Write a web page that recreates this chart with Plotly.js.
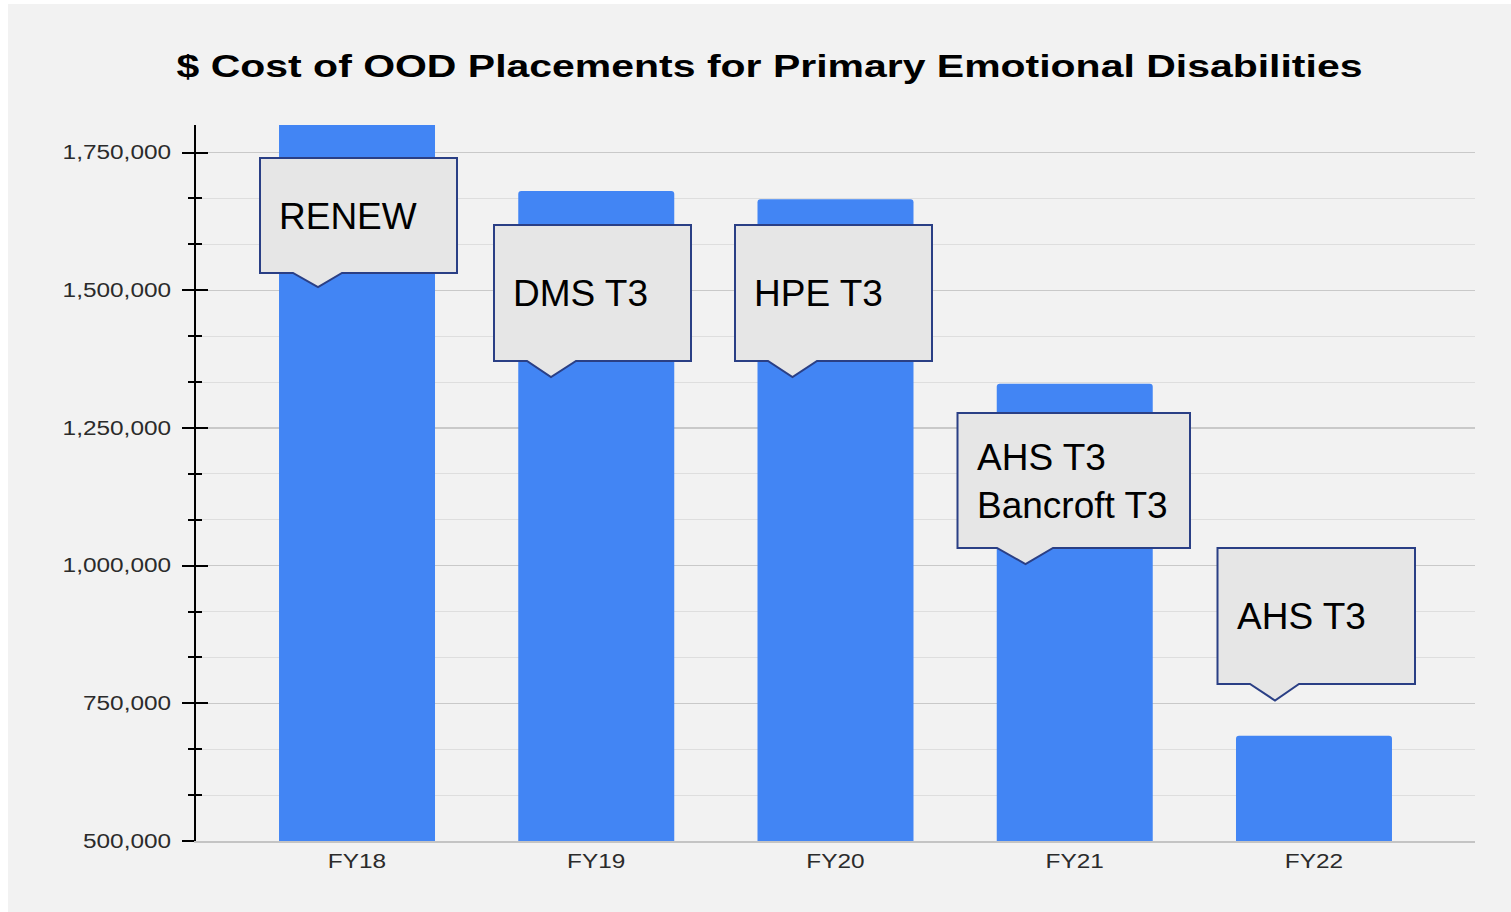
<!DOCTYPE html>
<html>
<head>
<meta charset="utf-8">
<script src="https://cdn.plot.ly/plotly-3.0.1.min.js"></script>
<style>
  html, body { margin: 0; padding: 0; background: #ffffff; }
  #chart { position: absolute; left: 8px; top: 4px; width: 1503px; height: 908px; }
</style>
</head>
<body>
<div id="chart"></div>
<script>
// ---- data ----
const categories = ['FY18', 'FY19', 'FY20', 'FY21', 'FY22'];
const costs = [1815000, 1680000, 1665000, 1330000, 691000];
const calloutLabels = ['RENEW', 'DMS T3', 'HPE T3', 'AHS T3<br>Bancroft T3', 'AHS T3'];
const yTickStep = 250000;

// ---- layout geometry (page pixels) ----
const W = 1503, H = 908, OFFX = 8, OFFY = 4;
const M = { l: 188, r: 36, t: 121, b: 71 };
const plotL = OFFX + M.l, plotR = OFFX + W - M.r;
const plotT = OFFY + M.t, plotB = OFFY + H - M.b;
const px = x => (x - plotL) / (plotR - plotL);
const py = y => (plotB - y) / (plotB - plotT);

// callout boxes: [left, right, top, bottom], notch base [l, r], tip [x, y], text center y
const calloutGeom = [
  { box: [260, 457, 158, 273], notch: [293, 342], tip: [318, 287], ty: 216 },
  { box: [494, 691, 225, 361], notch: [527, 576], tip: [551, 377], ty: 293 },
  { box: [735, 932, 225, 361], notch: [768, 817], tip: [792.5, 377], ty: 293 },
  { box: [957.5, 1190, 413, 548], notch: [997, 1053], tip: [1025.5, 564], ty: 481 },
  { box: [1217.5, 1415, 548, 684], notch: [1250, 1299], tip: [1275, 700.5], ty: 616 }
];

const shapes = [];
const annotations = [];
calloutGeom.forEach((g, i) => {
  const [L, R, T, B] = g.box;
  const path = 'M' + px(L) + ',' + py(T) +
    ' L' + px(R) + ',' + py(T) +
    ' L' + px(R) + ',' + py(B) +
    ' L' + px(g.notch[1]) + ',' + py(B) +
    ' L' + px(g.tip[0]) + ',' + py(g.tip[1]) +
    ' L' + px(g.notch[0]) + ',' + py(B) +
    ' L' + px(L) + ',' + py(B) + ' Z';
  shapes.push({
    type: 'path', xref: 'paper', yref: 'paper', path: path,
    fillcolor: '#e6e6e6', line: { color: '#2a3f85', width: 2 }, layer: 'above'
  });
  annotations.push({
    xref: 'paper', yref: 'paper', x: px(L + 17), y: py(g.ty),
    xanchor: 'left', yanchor: 'middle', align: 'left', showarrow: false,
    text: calloutLabels[i],
    font: { family: 'Liberation Sans, Arial, sans-serif', size: 37, color: '#000000', lineposition: 'none' }
  });
});

const tickFont = { family: 'Liberation Sans, Arial, sans-serif', size: 19.5, color: '#2b2b2b' };

const traces = [
  {
    type: 'bar', x: categories, y: costs, width: 0.652,
    marker: { color: '#4285f4', cornerradius: 3, line: { width: 0 } },
    hoverinfo: 'none', showlegend: false
  },
  {
    type: 'scatter', mode: 'markers', x: categories, y: costs, yaxis: 'y2',
    marker: { opacity: 0 }, hoverinfo: 'skip', showlegend: false
  }
];

const yRange = [500000, 1800000];
const layout = {
  width: W, height: H, autosize: false,
  paper_bgcolor: '#f2f2f2', plot_bgcolor: '#f2f2f2',
  margin: M,
  title: {
    text: '$ Cost of OOD Placements for Primary Emotional Disabilities',
    font: { family: 'Liberation Sans, Arial, sans-serif', size: 32, color: '#000000', weight: 'bold' },
    xref: 'container', yref: 'container',
    x: (769.5 - OFFX) / W, xanchor: 'center',
    y: 1 - (66 - OFFY) / H, yanchor: 'middle'
  },
  xaxis: {
    type: 'category', range: [-0.673, 4.673], fixedrange: true,
    showgrid: false, zeroline: false, ticks: '',
    showline: true, linecolor: '#c4c4c4', linewidth: 1.5,
    tickfont: tickFont, ticklabelstandoff: 2
  },
  yaxis: {
    range: yRange, fixedrange: true,
    tick0: 500000, dtick: yTickStep, tickformat: ',d',
    ticks: 'outside', ticklen: 12, tickwidth: 2, tickcolor: '#000000',
    showline: true, linecolor: '#000000', linewidth: 2,
    showgrid: true, gridcolor: '#c9c9c9', gridwidth: 1.2, zeroline: false,
    tickfont: tickFont, ticklabelstandoff: 7,
    minor: {
      tick0: 500000, dtick: yTickStep / 3, ticks: 'outside', ticklen: 6,
      tickwidth: 2, tickcolor: '#000000', showgrid: true, gridcolor: '#dedede', gridwidth: 1
    }
  },
  yaxis2: {
    overlaying: 'y', side: 'left', range: yRange, fixedrange: true,
    tick0: 500000, dtick: yTickStep,
    ticks: 'inside', ticklen: 12, tickwidth: 2, tickcolor: '#000000',
    showticklabels: false, showgrid: false, showline: false, zeroline: false,
    minor: { tick0: 500000, dtick: yTickStep / 3, ticks: 'inside', ticklen: 6, tickwidth: 2, tickcolor: '#000000', showgrid: false }
  },
  shapes: shapes,
  annotations: annotations,
  bargap: 0.35
};

const gd = document.getElementById('chart');
Plotly.newPlot(gd, traces, layout, { displayModeBar: false, staticPlot: true }).then(() => {
  // the reference's chart text is horizontally stretched
  const kTitle = 1.28, kTick = 1.25;
  const stretch = (sel, k) => gd.querySelectorAll(sel).forEach(t => {
    try {
      const w = t.getComputedTextLength();
      if (w > 0) {
        t.setAttribute('textLength', (w * k).toFixed(1));
        t.setAttribute('lengthAdjust', 'spacingAndGlyphs');
      }
    } catch (e) {}
  });
  stretch('.gtitle', kTitle);
  stretch('.xtick text, .ytick text', kTick);
});
</script>
</body>
</html>
